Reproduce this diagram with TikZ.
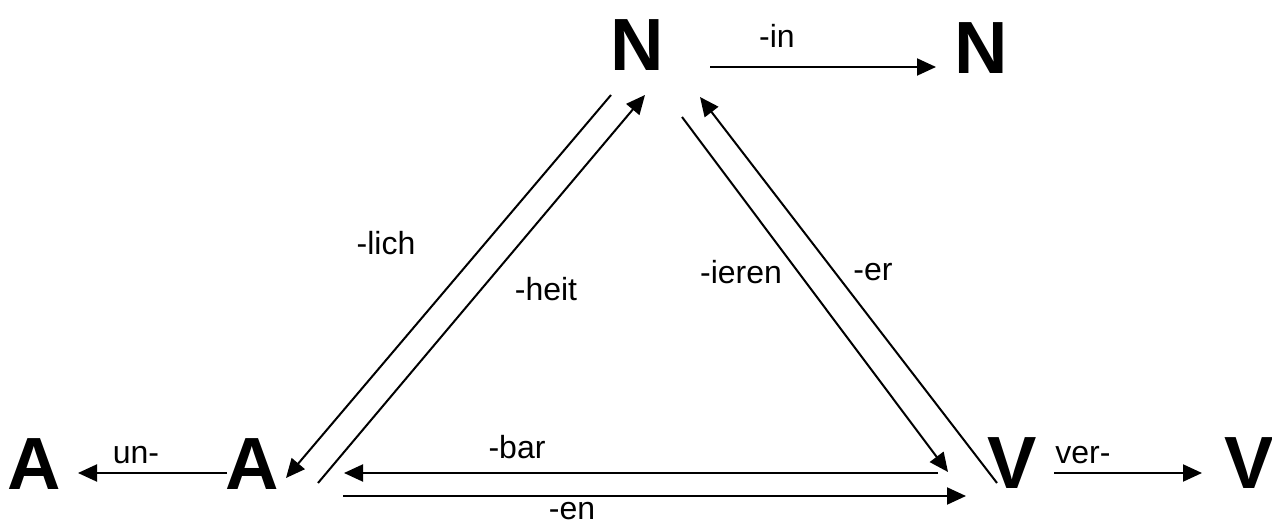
\documentclass[tikz,border=0pt]{standalone}
\usepackage{fontspec}
\setmainfont{Liberation Sans}
\usetikzlibrary{arrows.meta}
\begin{document}
\begin{tikzpicture}[x=1pt,y=-1pt,
  letter/.style={inner sep=0pt,font=\fontsize{74}{74}\selectfont\bfseries},
  lab/.style={inner sep=0pt,font=\fontsize{32}{32}\selectfont},
  conn/.style={line width=2pt,-{Triangle[length=19pt,width=17pt]}}]
\useasboundingbox (0,0) rectangle (1272,526);
% letters
\node[letter] (Ntop) at (637,45) {N};
\node[letter] (Nright) at (981,48) {N};
\node[letter] (Aleft) at (34,464) {A};
\node[letter] (Amid) at (252,464) {A};
\node[letter] (Vmid) at (1012,463) {V};
\node[letter] (Vright) at (1249,463) {V};
% endpoints
\coordinate (inS) at (710,67);
\coordinate (inE) at (936,67);
\coordinate (lichS) at (611,95);
\coordinate (lichE) at (286,478);
\coordinate (heitS) at (318,483);
\coordinate (heitE) at (645,95);
\coordinate (ierenS) at (682,117);
\coordinate (ierenE) at (948,472);
\coordinate (erS) at (997,483);
\coordinate (erE) at (700,97);
\coordinate (barS) at (938,473);
\coordinate (barE) at (344,473);
\coordinate (enS) at (343,496);
\coordinate (enE) at (966,496);
\coordinate (unS) at (227,473);
\coordinate (unE) at (78,473);
\coordinate (verS) at (1054,473);
\coordinate (verE) at (1202,473);
% connectors
\draw[conn] (inS) -- (inE);
\draw[conn] (lichS) -- (lichE);
\draw[conn] (heitS) -- (heitE);
\draw[conn] (ierenS) -- (ierenE);
\draw[conn] (erS) -- (erE);
\draw[conn] (barS) -- (barE);
\draw[conn] (enS) -- (enE);
\draw[conn] (unS) -- (unE);
\draw[conn] (verS) -- (verE);
% labels
\node[lab] (lin) at (777,36) {-in};
\node[lab] (llich) at (386,243) {-lich};
\node[lab] (lheit) at (546,289) {-heit};
\node[lab] (lieren) at (741,272) {-ieren};
\node[lab] (ler) at (873,272) {-er};
\node[lab] (lbar) at (517,447) {-bar};
\node[lab] (len) at (572,511) {-en};
\node[lab] (lun) at (136,455) {un-};
\node[lab] (lver) at (1083,455) {ver-};
\end{tikzpicture}
\end{document}
